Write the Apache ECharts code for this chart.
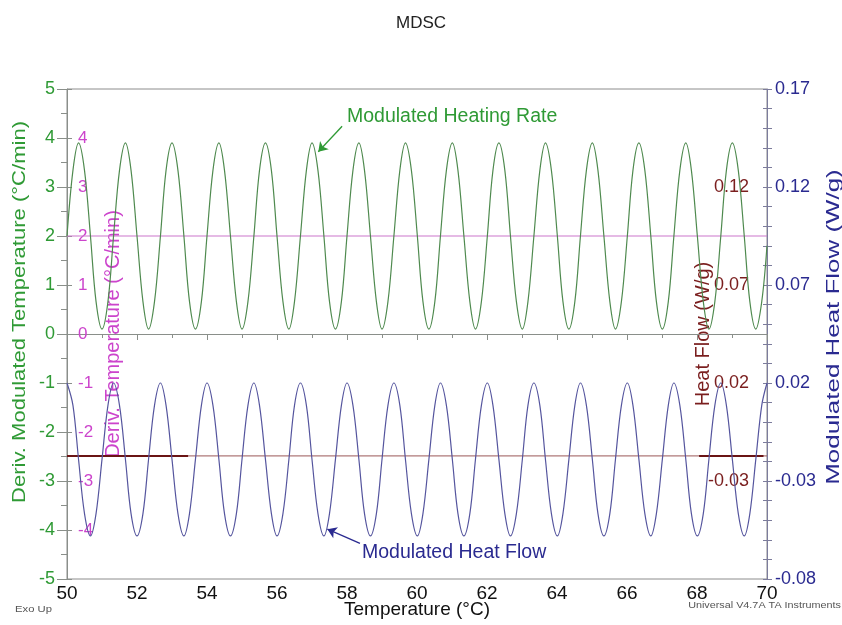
<!DOCTYPE html>
<html>
<head>
<meta charset="utf-8">
<title>MDSC</title>
<script src="https://cdn.jsdelivr.net/npm/echarts@6/dist/echarts.min.js"></script>
<style>
  html, body { margin: 0; padding: 0; background: #ffffff; }
  #chart { width: 842px; height: 625px; }
</style>
</head>
<body>
<div id="chart"></div>
<script>
// Sample temperatures (°C) shared by both modulated signals
const temperature = [
  50.00, 50.17, 50.33, 50.50, 50.67, 50.83, 51.00, 51.17,
  51.33, 51.50, 51.67, 51.83, 52.00, 52.17, 52.33, 52.50,
  52.67, 52.83, 53.00, 53.17, 53.34, 53.50, 53.67, 53.84,
  54.00, 54.17, 54.34, 54.50, 54.67, 54.84, 55.00, 55.17,
  55.34, 55.50, 55.67, 55.84, 56.00, 56.17, 56.34, 56.50,
  56.67, 56.84, 57.00, 57.17, 57.34, 57.50, 57.67, 57.84,
  58.00, 58.17, 58.34, 58.50, 58.67, 58.84, 59.00, 59.17,
  59.34, 59.51, 59.67, 59.84, 60.01, 60.17, 60.34, 60.51,
  60.67, 60.84, 61.01, 61.17, 61.34, 61.51, 61.67, 61.84,
  62.01, 62.17, 62.34, 62.51, 62.67, 62.84, 63.01, 63.17,
  63.34, 63.51, 63.67, 63.84, 64.01, 64.17, 64.34, 64.51,
  64.67, 64.84, 65.01, 65.17, 65.34, 65.51, 65.67, 65.84,
  66.01, 66.17, 66.34, 66.51, 66.68, 66.84, 67.01, 67.18,
  67.34, 67.51, 67.68, 67.84, 68.01, 68.18, 68.34, 68.51,
  68.68, 68.84, 69.01, 69.18, 69.35, 69.51, 69.68, 69.85,
  70.00
];

// Deriv. Modulated Temperature (°C/min)
const modHeatingRate = [
  2.00, 3.34, 3.90, 3.34, 2.00, 0.66, 0.10, 0.66,
  2.00, 3.34, 3.90, 3.34, 2.00, 0.66, 0.10, 0.66,
  2.00, 3.34, 3.90, 3.34, 2.00, 0.66, 0.10, 0.66,
  2.00, 3.34, 3.90, 3.34, 2.00, 0.66, 0.10, 0.66,
  2.00, 3.34, 3.90, 3.34, 2.00, 0.66, 0.10, 0.66,
  2.00, 3.34, 3.90, 3.34, 2.00, 0.66, 0.10, 0.66,
  2.00, 3.34, 3.90, 3.34, 2.00, 0.66, 0.10, 0.66,
  2.00, 3.34, 3.90, 3.34, 2.00, 0.66, 0.10, 0.66,
  2.00, 3.34, 3.90, 3.34, 2.00, 0.66, 0.10, 0.66,
  2.00, 3.34, 3.90, 3.34, 2.00, 0.66, 0.10, 0.66,
  2.00, 3.34, 3.90, 3.34, 2.00, 0.66, 0.10, 0.66,
  2.00, 3.34, 3.90, 3.34, 2.00, 0.66, 0.10, 0.66,
  2.00, 3.34, 3.90, 3.34, 2.00, 0.66, 0.10, 0.66,
  2.00, 3.34, 3.90, 3.34, 2.00, 0.66, 0.10, 0.66,
  2.00, 3.34, 3.90, 3.34, 2.00, 0.66, 0.10, 0.66,
  1.80
];

// Modulated Heat Flow (W/g)
const modHeatFlow = [
  0.0200, 0.0086, -0.0190, -0.0466, -0.0580, -0.0466, -0.0190, 0.0086,
  0.0200, 0.0086, -0.0190, -0.0466, -0.0580, -0.0466, -0.0190, 0.0086,
  0.0200, 0.0086, -0.0190, -0.0466, -0.0580, -0.0466, -0.0190, 0.0086,
  0.0200, 0.0086, -0.0190, -0.0466, -0.0580, -0.0466, -0.0190, 0.0086,
  0.0200, 0.0086, -0.0190, -0.0466, -0.0580, -0.0466, -0.0190, 0.0086,
  0.0200, 0.0086, -0.0190, -0.0466, -0.0580, -0.0466, -0.0190, 0.0086,
  0.0200, 0.0086, -0.0190, -0.0466, -0.0580, -0.0466, -0.0190, 0.0086,
  0.0200, 0.0086, -0.0190, -0.0466, -0.0580, -0.0466, -0.0190, 0.0086,
  0.0200, 0.0086, -0.0190, -0.0466, -0.0580, -0.0466, -0.0190, 0.0086,
  0.0200, 0.0086, -0.0190, -0.0466, -0.0580, -0.0466, -0.0190, 0.0086,
  0.0200, 0.0086, -0.0190, -0.0466, -0.0580, -0.0466, -0.0190, 0.0086,
  0.0200, 0.0086, -0.0190, -0.0466, -0.0580, -0.0466, -0.0190, 0.0086,
  0.0200, 0.0086, -0.0190, -0.0466, -0.0580, -0.0466, -0.0190, 0.0086,
  0.0200, 0.0086, -0.0190, -0.0466, -0.0580, -0.0466, -0.0190, 0.0086,
  0.0200, 0.0086, -0.0190, -0.0466, -0.0580, -0.0466, -0.0190, 0.0086,
  0.0200
];

// Deriv. Temperature (°C/min), constant underlying rate
const derivTempTemp = [50.0, 70.0];
const derivTemp = [2.0, 2.0];

// Heat Flow (W/g), total signal
const heatFlowTemp = [50.0, 70.0];
const heatFlow = [-0.0172, -0.0172];
const heatFlowStartTemp = [50.0, 53.46];
const heatFlowStart = [-0.0172, -0.0172];
const heatFlowEndTemp = [68.06, 69.90];
const heatFlowEnd = [-0.0172, -0.0172];

// Tick labels
const tempTicks = [50, 52, 54, 56, 58, 60, 62, 64, 66, 68, 70];
const derivTempLabels = [-4, -3, -2, -1, 0, 1, 2, 3, 4];
const modHeatFlowLabels = [-0.08, -0.03, 0.02, 0.07, 0.12, 0.17];
const heatFlowLabels = [-0.03, 0.02, 0.07, 0.12];

// Annotation arrows (tail, head) in axis units
const heatingRateArrow = [[57.86, 4.24], [57.18, 3.72]];
const heatFlowArrow = [[58.37, -0.0618], [57.44, -0.0546]];

const FONT = '"Liberation Sans", Arial, sans-serif';
const GREEN = '#2f9a35';
const GREEN_LINE = '#4f8a4f';
const MAGENTA = '#cc44cc';
const MAGENTA_LINE = '#cc77cc';
const BLUE = '#2a2a90';
const BLUE_LINE = '#55559e';
const BROWN = '#7a1e1e';
const AXIS_GREY = '#8a8f8a';

const zip = (xs, ys) => xs.map((x, i) => [x, ys[i]]);
const inList = (list, v) => list.some(t => Math.abs(t - v) < 1e-6);

const chart = echarts.init(document.getElementById('chart'), null, { renderer: 'canvas' });

chart.setOption({
  animation: false,
  backgroundColor: '#ffffff',
  title: {
    text: 'MDSC',
    left: 'center',
    top: 10,
    textStyle: { fontFamily: FONT, fontSize: 17, fontWeight: 'normal', color: '#222' }
  },
  grid: {
    left: 67, right: 75, top: 89, bottom: 46,
    outerBoundsMode: 'none',
    containLabel: false,
    show: true, borderColor: '#8c8c8c', borderWidth: 1, backgroundColor: 'transparent'
  },
  xAxis: {
    type: 'value',
    min: 50, max: 70, interval: 2,
    name: 'Temperature (°C)',
    nameLocation: 'middle',
    nameGap: 21,
    nameMoveOverlap: false,
    nameTextStyle: { fontFamily: FONT, fontSize: 19, color: '#111' },
    axisLine: { show: true, lineStyle: { color: AXIS_GREY, width: 1 } },
    axisTick: { show: true, length: 6, lineStyle: { color: AXIS_GREY } },
    minorTick: { show: true, splitNumber: 2, length: 4, lineStyle: { color: AXIS_GREY } },
    splitLine: { show: false },
    axisLabel: {
      fontFamily: FONT, fontSize: 19, color: '#111', margin: 5,
      formatter: v => (inList(tempTicks, v) ? String(v) : '')
    }
  },
  yAxis: [
    {
      // Deriv. Modulated Temperature
      type: 'value', position: 'left',
      min: -5, max: 5, interval: 1,
      axisLine: { show: true, lineStyle: { color: AXIS_GREY, width: 1 } },
      axisTick: { show: true, length: 10, lineStyle: { color: AXIS_GREY } },
      minorTick: { show: true, splitNumber: 2, length: 6, lineStyle: { color: AXIS_GREY } },
      splitLine: { show: false },
      axisLabel: { fontFamily: FONT, fontSize: 18, color: GREEN, margin: 12 }
    },
    {
      // Deriv. Temperature
      type: 'value', position: 'left',
      min: -5, max: 5, interval: 1,
      name: 'Deriv. Temperature (°C/min)',
      nameLocation: 'middle',
      nameGap: -46,
      nameMoveOverlap: false,
      nameTextStyle: { fontFamily: FONT, fontSize: 20, color: MAGENTA, verticalAlign: 'middle' },
      axisLine: { show: false },
      axisTick: { show: true, inside: true, length: 5, lineStyle: { color: AXIS_GREY } },
      splitLine: { show: false },
      axisLabel: {
        inside: true, margin: 11, fontFamily: FONT, fontSize: 17, color: MAGENTA,
        formatter: v => (inList(derivTempLabels, v) ? String(v) : '')
      }
    },
    {
      // Modulated Heat Flow
      type: 'value', position: 'right',
      min: -0.08, max: 0.17, interval: 0.01,
      axisLine: { show: true, lineStyle: { color: '#7c7c9c', width: 1 } },
      axisTick: { show: true, length: 5, lineStyle: { color: '#7c7c9c' } },
      splitLine: { show: false },
      axisLabel: {
        margin: 8, fontFamily: FONT, fontSize: 18, color: BLUE,
        formatter: v => (inList(modHeatFlowLabels, v) ? v.toFixed(2) : '')
      }
    },
    {
      // Heat Flow
      type: 'value', position: 'right',
      min: -0.08, max: 0.17, interval: 0.01,
      name: 'Heat Flow (W/g)',
      nameLocation: 'middle',
      nameGap: -64,
      nameMoveOverlap: false,
      nameTextStyle: { fontFamily: FONT, fontSize: 20, color: BROWN, verticalAlign: 'middle' },
      axisLine: { show: false },
      axisTick: { show: true, inside: true, length: 4, lineStyle: { color: '#7c7c9c' } },
      splitLine: { show: false },
      axisLabel: {
        inside: true, margin: 18, fontFamily: FONT, fontSize: 18, color: BROWN,
        formatter: v => (inList(heatFlowLabels, v) ? v.toFixed(2) : '')
      }
    }
  ],
  series: [
    {
      name: 'Deriv. Temperature',
      type: 'line', yAxisIndex: 1,
      data: zip(derivTempTemp, derivTemp),
      showSymbol: false,
      lineStyle: { color: MAGENTA_LINE, width: 1.2 },
      z: 2
    },
    {
      name: 'Heat Flow',
      type: 'line', yAxisIndex: 3,
      data: zip(heatFlowTemp, heatFlow),
      showSymbol: false,
      lineStyle: { color: '#9a5656', width: 1 },
      z: 2
    },
    {
      name: 'Heat Flow',
      type: 'line', yAxisIndex: 3,
      data: zip(heatFlowStartTemp, heatFlowStart),
      showSymbol: false,
      lineStyle: { color: '#6a1414', width: 2 },
      z: 3
    },
    {
      name: 'Heat Flow',
      type: 'line', yAxisIndex: 3,
      data: zip(heatFlowEndTemp, heatFlowEnd),
      showSymbol: false,
      lineStyle: { color: '#6a1414', width: 2 },
      z: 3
    },
    {
      name: 'Modulated Heating Rate',
      type: 'line', yAxisIndex: 0,
      data: zip(temperature, modHeatingRate),
      smooth: 0.35,
      showSymbol: false,
      lineStyle: { color: GREEN_LINE, width: 1.2 },
      z: 4,
      markLine: {
        silent: true,
        symbol: ['none', 'arrow'],
        symbolSize: 9,
        label: { show: false },
        lineStyle: { color: GREEN, width: 1.3, type: 'solid' },
        data: [[{ coord: heatingRateArrow[0] }, { coord: heatingRateArrow[1] }]]
      }
    },
    {
      name: 'Modulated Heat Flow',
      type: 'line', yAxisIndex: 2,
      data: zip(temperature, modHeatFlow),
      smooth: 0.35,
      showSymbol: false,
      lineStyle: { color: BLUE_LINE, width: 1.2 },
      z: 4,
      markLine: {
        silent: true,
        symbol: ['none', 'arrow'],
        symbolSize: 9,
        label: { show: false },
        lineStyle: { color: BLUE, width: 1.3, type: 'solid' },
        data: [[{ coord: heatFlowArrow[0] }, { coord: heatFlowArrow[1] }]]
      }
    }
  ],
  graphic: [
    {
      type: 'text', x: 20, y: 312, rotation: Math.PI / 2, scaleX: 1.16,
      style: {
        text: 'Deriv. Modulated Temperature (°C/min)', fill: GREEN,
        font: '19px ' + FONT, align: 'center', verticalAlign: 'middle',
        textAlign: 'center', textVerticalAlign: 'middle'
      }
    },
    {
      type: 'text', x: 834, y: 327, rotation: Math.PI / 2, scaleX: 1.44,
      style: {
        text: 'Modulated Heat Flow (W/g)', fill: BLUE,
        font: '18px ' + FONT, align: 'center', verticalAlign: 'middle',
        textAlign: 'center', textVerticalAlign: 'middle'
      }
    },
    {
      type: 'text', x: 347, y: 117,
      style: {
        text: 'Modulated Heating Rate', fill: GREEN,
        font: '19.5px ' + FONT, align: 'left', verticalAlign: 'middle',
        textAlign: 'left', textVerticalAlign: 'middle'
      }
    },
    {
      type: 'text', x: 362, y: 553,
      style: {
        text: 'Modulated Heat Flow', fill: BLUE,
        font: '19.5px ' + FONT, align: 'left', verticalAlign: 'middle',
        textAlign: 'left', textVerticalAlign: 'middle'
      }
    },
    {
      type: 'text', x: 15, y: 610, scaleX: 1.25,
      style: {
        text: 'Exo Up', fill: '#555',
        font: '9px ' + FONT, align: 'left', verticalAlign: 'middle',
        textAlign: 'left', textVerticalAlign: 'middle'
      }
    },
    {
      type: 'text', x: 841, y: 606, scaleX: 1.2,
      style: {
        text: 'Universal V4.7A TA Instruments', fill: '#555',
        font: '9px ' + FONT, align: 'right', verticalAlign: 'middle',
        textAlign: 'right', textVerticalAlign: 'middle'
      }
    }
  ]
});
</script>
</body>
</html>
